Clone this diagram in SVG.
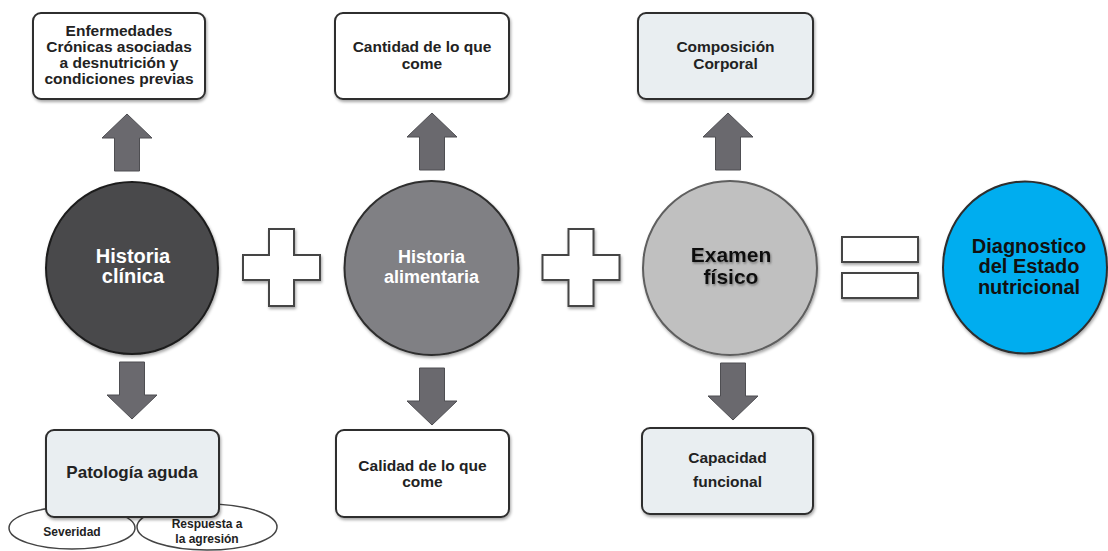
<svg xmlns="http://www.w3.org/2000/svg" width="1108" height="551" viewBox="0 0 1108 551">
<defs>
<filter id="sh" x="-20%" y="-20%" width="140%" height="140%"><feDropShadow dx="1" dy="2" stdDeviation="1.5" flood-color="#000" flood-opacity="0.35"/></filter>
<filter id="tsh" x="-20%" y="-20%" width="140%" height="140%"><feDropShadow dx="1" dy="1.5" stdDeviation="1" flood-color="#555" flood-opacity="0.7"/></filter>
<path id="arrowUp" d="M0,0 L25,24 L12.5,24 L12.5,57 L-12.5,57 L-12.5,24 L-25,24 Z"/>
<path id="plus" d="M-12.5,-38.5 H12.5 V-12.5 H38.5 V12.5 H12.5 V38.5 H-12.5 V12.5 H-38.5 V-12.5 H-12.5 Z"/>
</defs>
<style>
.box{stroke:#2e2e2e;stroke-width:2;filter:url(#sh)}
.white{fill:#ffffff}
.light{fill:#e9eef1}
.t{font-family:"Liberation Sans",Arial,Helvetica,sans-serif;font-weight:bold;text-anchor:middle}
.bt{font-size:15.5px;fill:#222}
.arrow{fill:#6a696e;stroke:#4e4e52;stroke-width:1}
.op{fill:#ffffff;stroke:#444;stroke-width:2;filter:url(#sh)}
.ell{fill:#ffffff;stroke:#444;stroke-width:1.5}
</style>
<rect width="1108" height="551" fill="#ffffff"/>

<g id="connectors">
<use href="#arrowUp" class="arrow" transform="translate(127,114)"/>
<use href="#arrowUp" class="arrow" transform="translate(432,113)"/>
<use href="#arrowUp" class="arrow" transform="translate(728,113)"/>
<use href="#arrowUp" class="arrow" transform="translate(132,419) scale(1,-1)"/>
<use href="#arrowUp" class="arrow" transform="translate(432,425) scale(1,-1)"/>
<use href="#arrowUp" class="arrow" transform="translate(733,420) scale(1,-1)"/>
</g>

<g id="op-plus-1"><use href="#plus" class="op" transform="translate(281.5,267.5)"/></g>
<g id="op-plus-2"><use href="#plus" class="op" transform="translate(581,267.5)"/></g>
<g id="op-equals">
<rect class="op" x="842" y="237" width="76" height="25"/>
<rect class="op" x="842" y="273" width="76" height="25"/>
</g>

<g id="enfermedades">
<rect class="box white" x="33" y="13" width="172" height="86" rx="8"/>
<text class="t bt" x="119" y="36">Enfermedades</text>
<text class="t bt" x="119" y="52">Crónicas asociadas</text>
<text class="t bt" x="119" y="68">a desnutrición y</text>
<text class="t bt" x="119" y="84">condiciones previas</text>
</g>

<g id="cantidad">
<rect class="box white" x="335" y="13" width="174" height="86" rx="8"/>
<text class="t bt" x="422" y="52">Cantidad de lo que</text>
<text class="t bt" x="422" y="69">come</text>
</g>

<g id="composicion">
<rect class="box light" x="638" y="13" width="175" height="86" rx="8"/>
<text class="t bt" x="725.5" y="52">Composición</text>
<text class="t bt" x="725.5" y="69">Corporal</text>
</g>

<g id="historia-clinica">
<circle cx="132" cy="268" r="86" fill="#4a4a4c" stroke="#1e1e1e" stroke-width="2" filter="url(#sh)"/>
<text class="t" x="133" y="263" font-size="20" fill="#ffffff">Historia</text>
<text class="t" x="133" y="283" font-size="20" fill="#ffffff">clínica</text>
</g>

<g id="historia-alimentaria">
<circle cx="431.5" cy="268" r="87" fill="#808084" stroke="#2e2e2e" stroke-width="2" filter="url(#sh)"/>
<text class="t" x="431.5" y="263" font-size="18" fill="#ffffff">Historia</text>
<text class="t" x="431.5" y="283" font-size="18" fill="#ffffff">alimentaria</text>
</g>

<g id="examen-fisico">
<circle cx="730" cy="268" r="87" fill="#c0c0c0" stroke="#5e5e5e" stroke-width="2" filter="url(#sh)"/>
<text class="t" x="731" y="262" font-size="21" fill="#111" filter="url(#tsh)">Examen</text>
<text class="t" x="731" y="284" font-size="21" fill="#111" filter="url(#tsh)">físico</text>
</g>

<g id="diagnostico">
<ellipse cx="1025" cy="267.5" rx="82" ry="86" fill="#00adef" stroke="#2e2e2e" stroke-width="2" filter="url(#sh)"/>
<text class="t" x="1029" y="253" font-size="20" fill="#111">Diagnostico</text>
<text class="t" x="1029" y="273" font-size="20" fill="#111">del Estado</text>
<text class="t" x="1029" y="294" font-size="20" fill="#111">nutricional</text>
</g>

<g id="severidad">
<ellipse class="ell" cx="72" cy="528" rx="63" ry="21"/>
<text class="t" x="72" y="536" font-size="12" fill="#222">Severidad</text>
</g>

<g id="respuesta">
<ellipse class="ell" cx="207" cy="527" rx="70" ry="23"/>
<text class="t" x="207" y="528" font-size="12" fill="#222">Respuesta a</text>
<text class="t" x="207" y="543" font-size="12" fill="#222">la agresión</text>
</g>

<g id="patologia">
<rect class="box light" x="46" y="430" width="173" height="87" rx="8"/>
<text class="t" x="132" y="478" font-size="17" fill="#222">Patología aguda</text>
</g>

<g id="calidad">
<rect class="box white" x="336" y="430" width="173" height="87" rx="8"/>
<text class="t bt" x="422.5" y="471">Calidad de lo que</text>
<text class="t bt" x="422.5" y="487">come</text>
</g>

<g id="capacidad">
<rect class="box light" x="642" y="428" width="171" height="86" rx="8"/>
<text class="t bt" x="727.5" y="463">Capacidad</text>
<text class="t bt" x="727.5" y="487">funcional</text>
</g>
</svg>
